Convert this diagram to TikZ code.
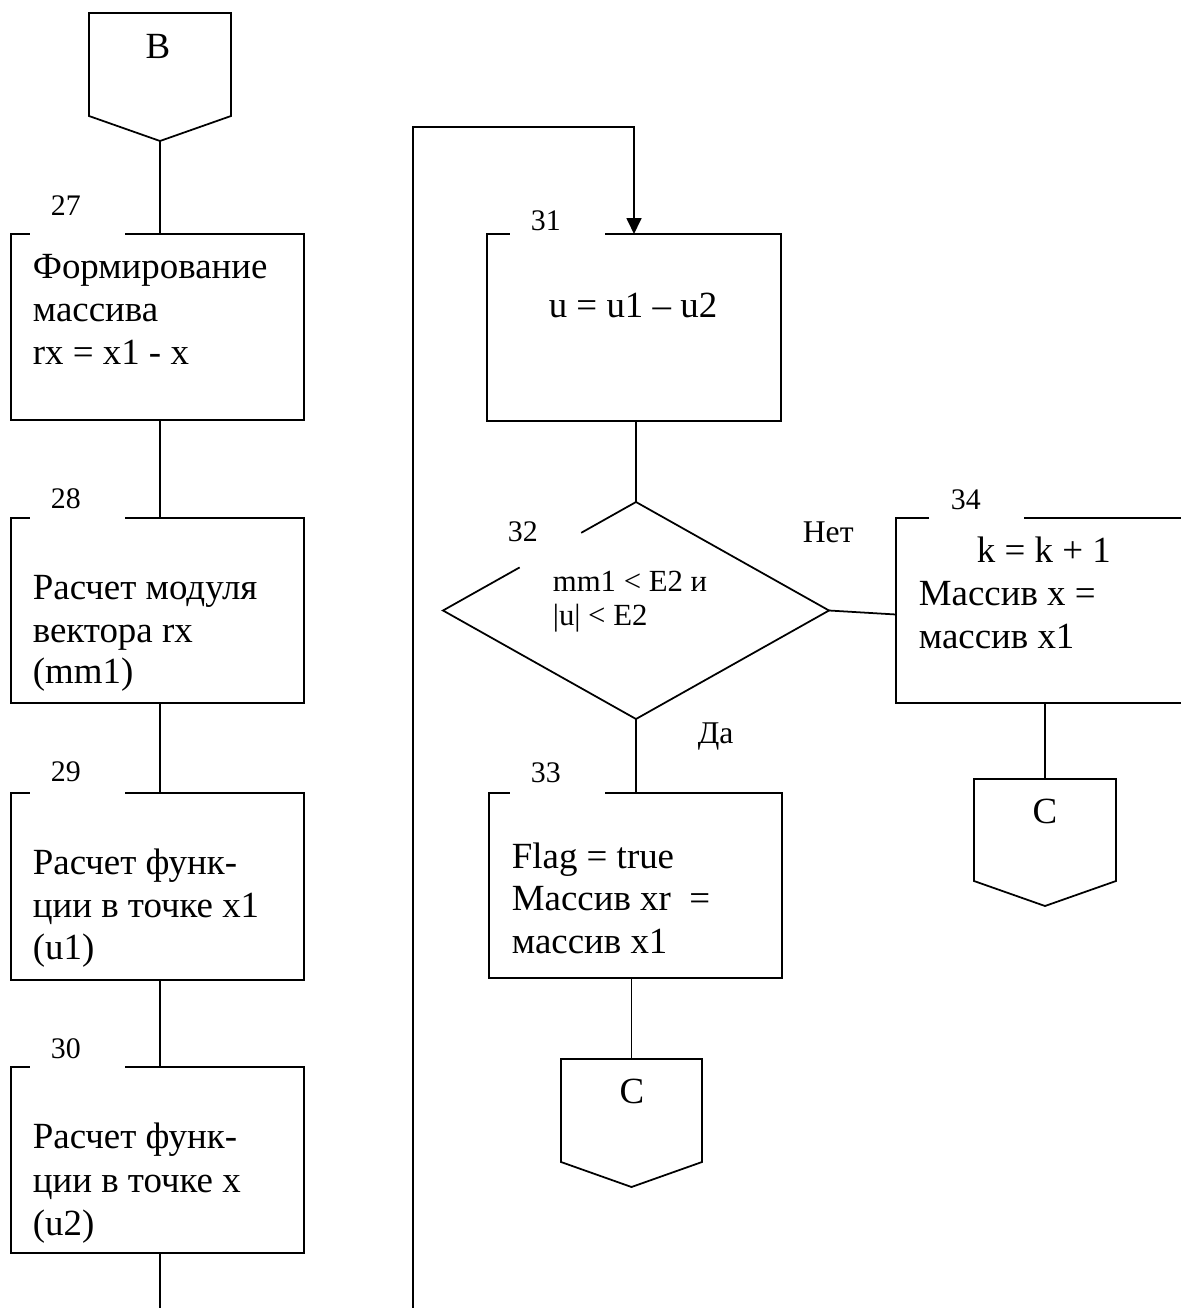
\documentclass[tikz,border=0pt]{standalone}
\usepackage{fontspec}
\setmainfont{Liberation Serif}
\usetikzlibrary{calc,arrows.meta}
\begin{document}
\begin{tikzpicture}[x=0.02cm,y=-0.02cm,line width=1pt,
  area/.style={rectangle,inner sep=0,outer sep=0,anchor=north west},
  txt/.style={font=\fontsize{21}{24}\selectfont,inner sep=0,anchor=base west},
  num/.style={font=\fontsize{17}{20}\selectfont,inner sep=0,anchor=base west},
  cond/.style={font=\fontsize{17.5}{20}\selectfont,inner sep=0,anchor=base west},
  lbl/.style={font=\fontsize{18}{21}\selectfont,inner sep=0,anchor=base west},
  letter/.style={font=\fontsize{21}{24}\selectfont,inner sep=0,anchor=base}]
\useasboundingbox (0,0) rectangle (1181,1308);

% ---------- areas (named nodes) ----------
\node[area,minimum width=142*0.02cm,minimum height=103*0.02cm] (B) at (89,13) {};
\node[area,minimum width=293*0.02cm,minimum height=186*0.02cm] (b27) at (11,234) {};
\node[area,minimum width=293*0.02cm,minimum height=185*0.02cm] (b28) at (11,518) {};
\node[area,minimum width=293*0.02cm,minimum height=187*0.02cm] (b29) at (11,793) {};
\node[area,minimum width=293*0.02cm,minimum height=186*0.02cm] (b30) at (11,1067) {};
\node[area,minimum width=294*0.02cm,minimum height=187*0.02cm] (b31) at (487,234) {};
\node[inner sep=0,outer sep=0,minimum width=386*0.02cm,minimum height=217*0.02cm] (D) at (636,610.5) {};
\node[area,minimum width=285*0.02cm,minimum height=185*0.02cm] (b34) at (896,518) {};
\node[area,minimum width=293*0.02cm,minimum height=185*0.02cm] (b33) at (489,793) {};
\node[area,minimum width=142*0.02cm,minimum height=102*0.02cm] (C1) at (974,779) {};
\node[area,minimum width=141*0.02cm,minimum height=103*0.02cm] (C2) at (561,1059) {};
\coordinate (endL) at (160,1308);
\coordinate (loopS) at (413,1308);
\coordinate (loopA) at (413,127);
\coordinate (Btip) at ($(B.south)+(0,25)$);

% ---------- outlines ----------
% off-page connectors
\foreach \n in {B,C1,C2}{
  \draw (\n.north west) -- (\n.north east) -- (\n.south east)
        -- ($(\n.south)+(0,25)$) -- (\n.south west) -- cycle;
}
% process boxes with a gap in the top edge for the number
\foreach \n/\a/\b in {b27/19/114,b28/19/114,b29/19/114,b30/19/114,b31/23/118,b33/21/116}{
  \draw ($(\n.north west)+(\b,0)$) -- (\n.north east) -- (\n.south east)
        -- (\n.south west) -- (\n.north west) -- ($(\n.north west)+(\a,0)$);
}
% box 34 runs off the right edge
\draw ($(b34.north west)+(128,0)$) -- (b34.north east);
\draw ($(b34.north west)+(33,0)$) -- (b34.north west) -- (b34.south west) -- (b34.south east);
% decision diamond with a gap for its number
\draw ($(D.west)!0.716!(D.north)$) -- (D.north) -- (D.east) -- (D.south) -- (D.west)
      -- ($(D.west)!0.397!(D.north)$);

% ---------- connectors ----------
\draw (Btip) -- (Btip |- b27.north);
\draw (Btip |- b27.south) -- (Btip |- b28.north);
\draw (Btip |- b28.south) -- (Btip |- b29.north);
\draw (Btip |- b29.south) -- (Btip |- b30.north);
\draw (Btip |- b30.south) -- (Btip |- endL);
\draw[-{Triangle[length=0.32cm,width=0.3cm]}] (loopS) -- (loopA) -- (b31.north |- loopA) -- (b31.north);
\draw (D.north |- b31.south) -- (D.north);
\draw (D.east) -- ([yshift=-0.08cm]b34.west);
\draw (D.south) -- (D.south |- b33.north);
\draw (C2.north |- b33.south) -- (C2.north);
\draw (C1.north |- b34.south) -- (C1.north);

% ---------- texts ----------
\node[letter] (tB) at (158,59) {B};
\node[letter] (tC1) at (1045,823) {C};
\node[letter] (tC2) at (632,1103) {C};

\node[num] (n27) at (50,215) {27};
\node[num] (n28) at (50,508) {28};
\node[num] (n29) at (50,781) {29};
\node[num] (n30) at (50,1058) {30};
\node[num] (n31) at (530,230) {31};
\node[num] (n32) at (507,541) {32};
\node[num] (n33) at (530,782) {33};
\node[num] (n34) at (950,509) {34};

\node[txt] (t27a) at (32,278) {Формирование};
\node[txt] (t27b) at (32,321) {массива};
\node[txt] (t27c) at (32,364) {rx = x1 - x};

\node[txt] (t28a) at (32,599) {Расчет модуля};
\node[txt] (t28b) at (32,642) {вектора rx};
\node[txt] (t28c) at (32,683) {(mm1)};

\node[txt] (t29a) at (32,874) {Расчет функ-};
\node[txt] (t29b) at (32,917) {ции в точке x1};
\node[txt] (t29c) at (32,959) {(u1)};

\node[txt] (t30a) at (32,1148) {Расчет функ-};
\node[txt] (t30b) at (32,1192) {ции в точке x};
\node[txt] (t30c) at (32,1235) {(u2)};

\node[txt,anchor=base] (t31) at (633,317) {u = u1 – u2};

\node[cond] (t32a) at (552,591) {mm1 < E2 и};
\node[cond] (t32b) at (552,625) {|u| < E2};
\node[lbl] (no) at (802,542) {Нет};
\node[lbl] (yes) at (697,743) {Да};

\node[txt] (t33a) at (511,868) {Flag = true};
\node[txt] (t33b) at (511,910) {Массив xr\ \ =};
\node[txt] (t33c) at (511,953) {массив x1};

\node[txt] (t34a) at (976,562) {k = k + 1};
\node[txt] (t34b) at (918,605) {Массив x =};
\node[txt] (t34c) at (918,648) {массив x1};
\end{tikzpicture}
\end{document}
